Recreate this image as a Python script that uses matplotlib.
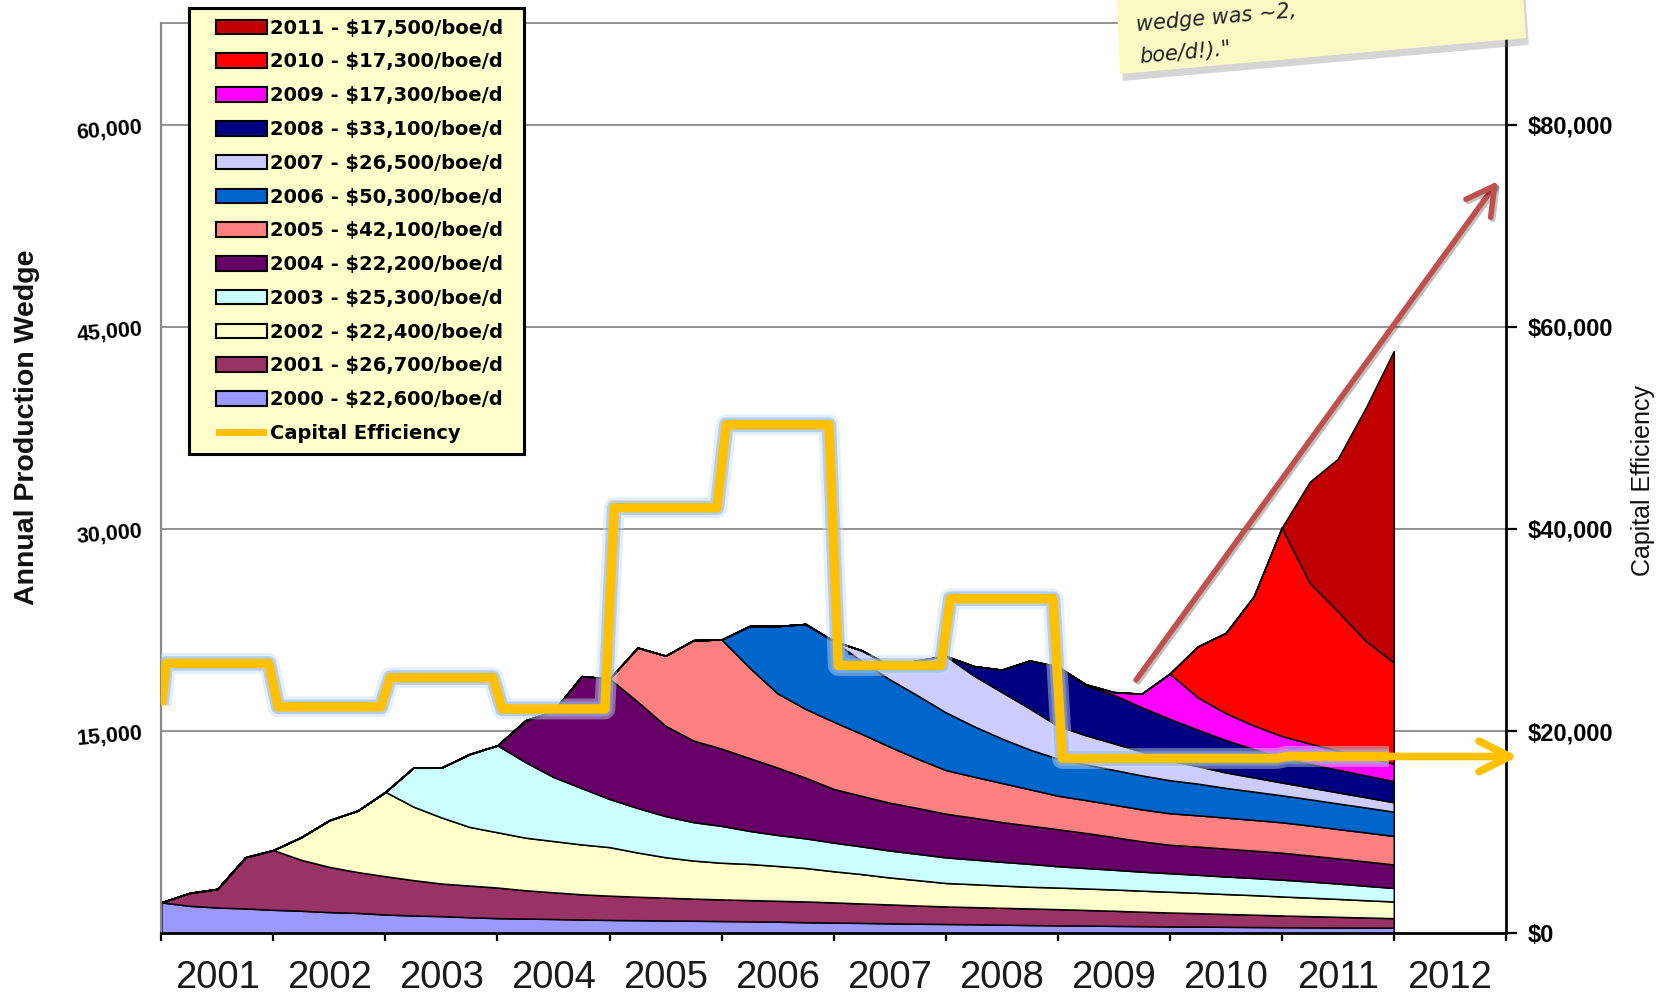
import numpy as np
import matplotlib
matplotlib.use("Agg")
import matplotlib.pyplot as plt
from matplotlib.patches import Patch, Polygon, Rectangle
from matplotlib.legend_handler import HandlerPatch
import matplotlib.patheffects as pe

W, H = 1665, 999

# ---- data -----------------------------------------------------------------
# quarterly sample dates, Jan 2001 .. Jan 2012
quarters = np.arange(2001.0, 2012.0 + 1e-9, 0.25)

cohort_years = list(range(2000, 2012))

# production (boe/d) added by each year's drilling program, quarterly from its first year
w2000 = [2300, 2050, 1920, 1850, 1750, 1680, 1580, 1520, 1400, 1330, 1280, 1200,
         1130, 1100, 1070, 1030, 1000, 980, 960, 940, 920, 900, 870, 830,
         800, 780, 750, 720, 700, 680, 650, 620, 600, 580, 560, 540,
         520, 505, 490, 475, 460, 450, 440, 430, 420]
w2001 = [0, 950, 1380, 3800, 4430, 3770, 3350, 3030, 2840, 2620, 2420, 2350,
         2270, 2100, 1980, 1870, 1800, 1740, 1690, 1640, 1600, 1570, 1550, 1540,
         1500, 1440, 1400, 1350, 1300, 1270, 1250, 1230, 1200, 1160, 1120, 1070,
         1030, 995, 950, 915, 870, 830, 790, 750, 710]
w2002 = [0, 1700, 3470, 4550, 6260, 5450, 4900, 4350, 4100, 3900, 3800, 3700,
         3600, 3280, 3000, 2820, 2720, 2680, 2580, 2480, 2310, 2180, 2000, 1880,
         1740, 1700, 1650, 1610, 1600, 1590, 1580, 1560, 1540, 1510, 1480, 1450,
         1410, 1370, 1330, 1280, 1240]
w2003 = [0, 2900, 3700, 5400, 6450, 5600, 4750, 4180, 3570, 3300, 3050, 2850,
         2735, 2450, 2300, 2200, 2124, 2050, 2000, 1950, 1900, 1830, 1760, 1700,
         1585, 1520, 1460, 1410, 1373, 1340, 1300, 1270, 1248, 1200, 1140, 1070,
         1002]
w2004 = [0, 3100, 4900, 8300, 8930, 7900, 6700, 6050, 5732, 5400, 5000, 4500,
         3984, 3750, 3550, 3400, 3243, 3100, 2950, 2830, 2743, 2600, 2430, 2250,
         2110, 2090, 2070, 2030, 1996, 1930, 1860, 1810, 1741]
w2005 = [0, 4000, 5200, 7450, 8093, 6700, 5500, 5100, 4982, 4600, 4150, 3650,
         3236, 3050, 2900, 2700, 2489, 2440, 2400, 2370, 2340, 2320, 2300, 2280,
         2260, 2220, 2180, 2150, 2115]
w2006 = [0, 3100, 5000, 6300, 5982, 5400, 5000, 4700, 4288, 3750, 3300, 2950,
         2750, 2650, 2580, 2520, 2450, 2350, 2200, 2100, 2000, 1950, 1900, 1850,
         1800]
w2007 = [0, 800, 1000, 2600, 4180, 3750, 3450, 3050, 2433, 2160, 1970, 1760,
         1450, 1300, 1150, 1050, 950, 880, 820, 760, 700]
w2008 = [0, 700, 1650, 3550, 4400, 3700, 3600, 3300, 3100, 2700, 2400, 2100,
         1850, 1750, 1680, 1620, 1570]
w2009 = [0, 80, 200, 1000, 3360, 2400, 2000, 1750, 1600, 1500, 1420, 1360, 1300]
w2010 = [0, 3780, 5950, 9580, 15453, 11920, 10340, 8620, 7503]
w2011 = [0, 7500, 11300, 17300, 23100]

# capital efficiency of each year's program ($ per boe/d)
cap_eff = [22600, 26700, 22400, 25300, 22200, 42100, 50300, 26500, 33100,
           17300, 17300, 17500]

cohort_colors = ['#9999FF', '#993366', '#FFFFCC', '#CCFFFF', '#660066', '#FF8080',
                 '#0066CC', '#CCCCFF', '#000080', '#FF00FF', '#FF0000', '#C00000']

x_tick_years = list(range(2001, 2013))

# ---- build the stacked series ----------------------------------------------
series = []
for w in [w2000, w2001, w2002, w2003, w2004, w2005, w2006, w2007, w2008,
          w2009, w2010, w2011]:
    w = np.asarray(w, dtype=float)
    series.append(np.concatenate([np.zeros(len(quarters) - len(w)), w]))

# ---- figure ----------------------------------------------------------------
fig = plt.figure(figsize=(W / 100, H / 100), dpi=100)
fig.patch.set_facecolor('white')
ax = fig.add_axes([161.4 / W, 1 - 933.4 / H, (1505.8 - 161.4) / W, (933.4 - 23.4) / H])
ax.set_xlim(2001, 2013)
ax.set_ylim(0, 67500)
ax.set_axisbelow(True)

ax.stackplot(quarters, *series, colors=cohort_colors, edgecolor='black',
             linewidth=1.1, zorder=2)

# grid & spines
ax.yaxis.grid(True, color='#8a8a8a', linewidth=1.3)
ax.spines['left'].set_color('#8a8a8a')
ax.spines['left'].set_linewidth(1.6)
ax.spines['top'].set_color('#8a8a8a')
ax.spines['top'].set_linewidth(1.3)
ax.spines['bottom'].set_color('black')
ax.spines['bottom'].set_linewidth(2.0)
ax.spines['right'].set_visible(False)

# x axis: ticks at year boundaries, labels centred in each year
ax.set_xticks(range(2001, 2014))
ax.set_xticklabels([])
ax.set_xticks([y + 0.5 for y in x_tick_years], minor=True)
ax.set_xticklabels([str(y) for y in x_tick_years], minor=True,
                   fontsize=27.5, color='#1a1a1a', family='Liberation Sans')
ax.tick_params(axis='x', which='major', length=6, width=1.6, direction='out', color='black')
ax.tick_params(axis='x', which='minor', length=0, pad=19)

# left axis
ax.set_yticks([15000, 30000, 45000, 60000])
ax.set_yticklabels([f'{v:,}' for v in [15000, 30000, 45000, 60000]],
                   fontsize=15.5, fontweight='bold', rotation=5, family='Liberation Sans')
ax.tick_params(axis='y', length=0, pad=13)

# right axis: capital efficiency
ax2 = ax.twinx()
ax2.set_ylim(0, 90000)
for s in ['left', 'top', 'bottom']:
    ax2.spines[s].set_visible(False)
ax2.spines['right'].set_color('black')
ax2.spines['right'].set_linewidth(2.0)
right_ticks = [0, 20000, 40000, 60000, 80000]
ax2.set_yticks(right_ticks)
ax2.set_yticklabels([f'${v:,}' for v in right_ticks], fontsize=17,
                    fontweight='bold', family='Liberation Sans')
ax2.tick_params(axis='y', length=8, width=1.6, direction='out', pad=8)

cap_x = [2001.0]
cap_y = [cap_eff[0]]
for yr, v in zip(range(2001, 2012), cap_eff[1:]):
    cap_x += [yr + 1 / 24, yr + 1 - 1 / 24]
    cap_y += [v, v]

glow = [pe.Stroke(linewidth=15, foreground='#C9DCF2', alpha=0.45),
        pe.Stroke(linewidth=10.5, foreground='#8DB4E2', alpha=0.55),
        pe.Normal()]
ax2.plot(cap_x, cap_y, color='#FFC000', linewidth=6.8, solid_joinstyle='round',
         solid_capstyle='butt', path_effects=glow, zorder=5)

# continuation arrow of the capital efficiency line
ax2.annotate('', xy=(2013.11, cap_eff[-1]), xytext=(cap_x[-1], cap_eff[-1]),
             arrowprops=dict(arrowstyle='->,head_length=1.1,head_width=0.55',
                             color='#FFC000', lw=5.5, mutation_scale=20,
                             shrinkA=0, shrinkB=0),
             annotation_clip=False, zorder=6)

# trend arrow over the recent wedges
ax2.annotate('', xy=(2012.93, 55800 * 90000 / 67500), xytext=(2009.70, 18800 * 90000 / 67500),
             arrowprops=dict(arrowstyle='->,head_length=1.0,head_width=0.55',
                             color='#C0504D', lw=4.0, mutation_scale=20,
                             shrinkA=0, shrinkB=0,
                             path_effects=[pe.SimpleLineShadow(offset=(1.5, -1.5), alpha=0.25),
                                           pe.Normal()]),
             annotation_clip=False, zorder=6)

# axis titles
fig.text(27 / W, 1 - 427 / H, 'Annual Production Wedge', rotation=90,
         ha='center', va='center', fontsize=20.5, fontweight='bold',
         family='Liberation Sans', color='#111111')
fig.text(1643 / W, 1 - 481 / H, 'Capital Efficiency', rotation=90,
         ha='center', va='center', fontsize=18,
         family=['Liberation Sans Narrow', 'Liberation Sans'], color='#111111')


# legend: swatches inset from the frame's left edge
def inset_swatch(legend, orig_handle, xdescent, ydescent, width, height, fontsize):
    off = width * 0.2365
    return Rectangle((-xdescent + off, -ydescent), width - off, height)


def inset_bar(legend, orig_handle, xdescent, ydescent, width, height, fontsize):
    off = width * 0.2365
    bar_h = height * 0.45
    return Rectangle((-xdescent + off, -ydescent + (height - bar_h) / 2), width - off, bar_h)


labels = [f'{yr} - ${v:,}/boe/d' for yr, v in zip(cohort_years, cap_eff)]
handles = [Patch(facecolor=c, edgecolor='black', linewidth=1.5, label=l)
           for c, l in zip(cohort_colors, labels)][::-1]
cap_handle = Patch(facecolor='#FFC000', edgecolor='none', label='Capital Efficiency')
handles.append(cap_handle)
leg = ax2.legend(handles=handles, loc='upper left',
                 bbox_to_anchor=(189 / W, 1 - 450 / H, 335 / W, 442 / H),
                 bbox_transform=fig.transFigure, mode='expand', borderaxespad=0,
                 frameon=True, fancybox=False, edgecolor='black', facecolor='#FFFFCC',
                 framealpha=1, prop=dict(family='DejaVu Sans', weight='bold', size=14),
                 handlelength=3.44, handleheight=0.77, handletextpad=0.18,
                 labelspacing=0.76, borderpad=0.55,
                 handler_map={cap_handle: HandlerPatch(patch_func=inset_bar),
                              Patch: HandlerPatch(patch_func=inset_swatch)})
leg.get_frame().set_linewidth(2.2)
leg.set_zorder(20)

# sticky note in the top corner
note = Polygon([(1116 / W, 1.02), (1120 / W, 1 - 74 / H), (1526 / W, 1 - 38 / H),
                (1522 / W, 1.02)], closed=True, transform=fig.transFigure,
               facecolor='#FBF9C3', edgecolor='none', zorder=30,
               path_effects=[pe.SimplePatchShadow(offset=(2, -5), shadow_rgbFace='#777777', alpha=0.3),
                             pe.Normal()])
fig.patches.append(note)
fig.text(1137 / W, 1 - 31 / H, 'wedge was ~2,', rotation=5, fontsize=15,
         style='oblique', family='DejaVu Sans', color='#222222', zorder=31,
         ha='left', va='baseline', rotation_mode='anchor')
fig.text(1140 / W, 1 - 63 / H, 'boe/d!)."', rotation=5, fontsize=15,
         style='oblique', family='DejaVu Sans', color='#222222', zorder=31,
         ha='left', va='baseline', rotation_mode='anchor')

fig.savefig('out.png', dpi=100)
